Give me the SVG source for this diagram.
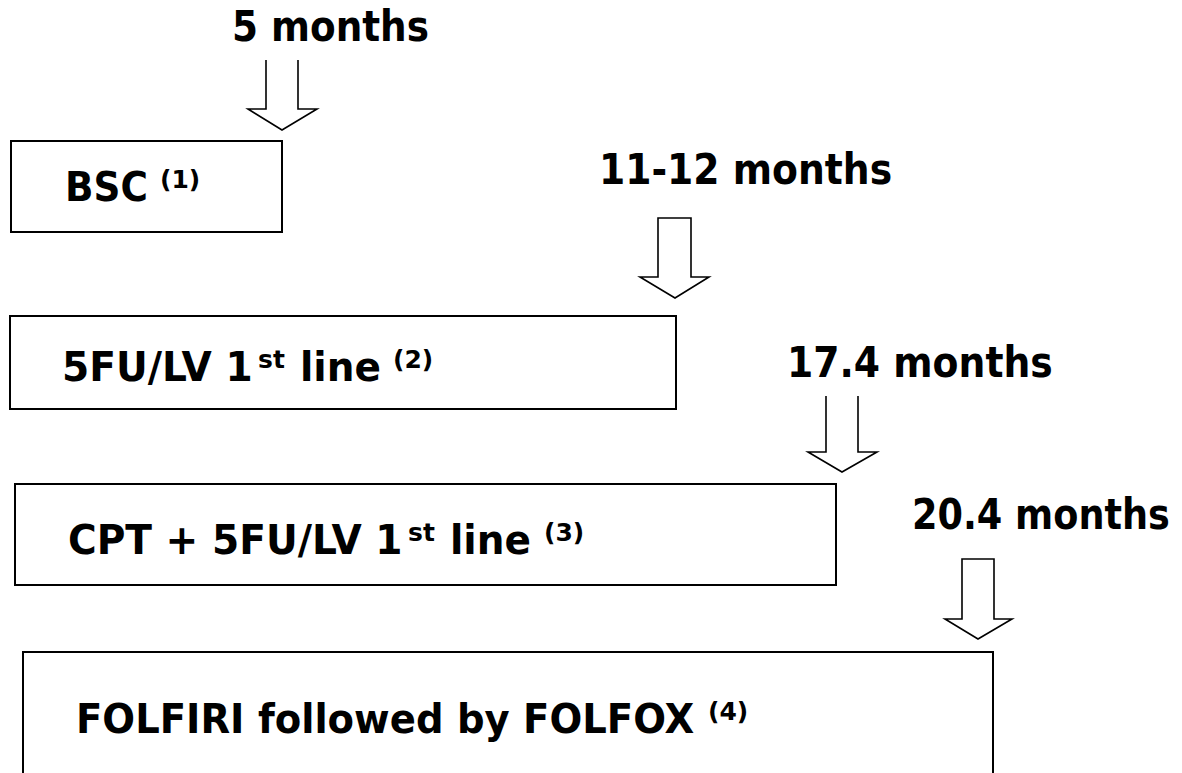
<svg xmlns="http://www.w3.org/2000/svg" width="1182" height="773" viewBox="0 0 1182 773">
<style>
.lbl{font-family:"DejaVu Sans","Liberation Sans",sans-serif;font-weight:bold;font-size:42px;fill:#000}
.bt{font-family:"DejaVu Sans","Liberation Sans",sans-serif;font-weight:bold;font-size:41px;fill:#000}
.sup{font-family:"DejaVu Sans","Liberation Sans",sans-serif;font-weight:bold;font-size:25px;fill:#000}
.box{fill:#fff;stroke:#000;stroke-width:2}
.arr{fill:#fff;stroke:#000;stroke-width:1.6;stroke-linejoin:miter}
</style>
<rect width="1182" height="773" fill="#fff"/>
<g id="connectors">
<path class="arr" d="M266,60 V109 H248 L282,130 L317,109 H298 V60"/>
<path class="arr" d="M658,218 V277 H640 L675,298 L709,277 H691 V218 Z"/>
<path class="arr" d="M826,396 V452 H808 L842,472 L877,452 H858 V396"/>
<path class="arr" d="M962,559 V619 H945 L978,639 L1012,619 H994 V559 Z"/>
</g>
<g id="label-5months"><text class="lbl" transform="translate(232,41) scale(0.89,1)">5 months</text></g>
<g id="label-11-12months"><text class="lbl" transform="translate(599,184) scale(0.898,1)">11-12 months</text></g>
<g id="label-17-4months"><text class="lbl" transform="translate(787,377) scale(0.899,1)">17.4 months</text></g>
<g id="label-20-4months"><text class="lbl" transform="translate(912,529) scale(0.872,1)">20.4 months</text></g>
<g id="node-bsc">
<rect class="box" x="11" y="141" width="271" height="91"/>
<text class="bt" transform="translate(65,201) scale(0.913,1)">BSC</text>
<text class="sup" x="160" y="188">(1)</text>
</g>
<g id="node-5fu">
<rect class="box" x="10" y="316" width="666" height="93"/>
<text class="bt" transform="translate(62,381) scale(0.955,1)">5FU/LV 1</text>
<text class="sup" x="258" y="368">st</text>
<text class="bt" transform="translate(300,381) scale(0.952,1)">line</text>
<text class="sup" x="393" y="368">(2)</text>
</g>
<g id="node-cpt">
<rect class="box" x="15" y="484" width="821" height="101"/>
<text class="bt" transform="translate(68,554) scale(0.954,1)">CPT + 5FU/LV 1</text>
<text class="sup" x="408" y="541">st</text>
<text class="bt" transform="translate(450,554) scale(0.952,1)">line</text>
<text class="sup" x="544" y="541">(3)</text>
</g>
<g id="node-folfiri">
<rect class="box" x="23" y="652" width="970" height="140"/>
<text class="bt" transform="translate(76,733) scale(0.941,1)">FOLFIRI followed by FOLFOX</text>
<text class="sup" x="708" y="720">(4)</text>
</g>
</svg>
